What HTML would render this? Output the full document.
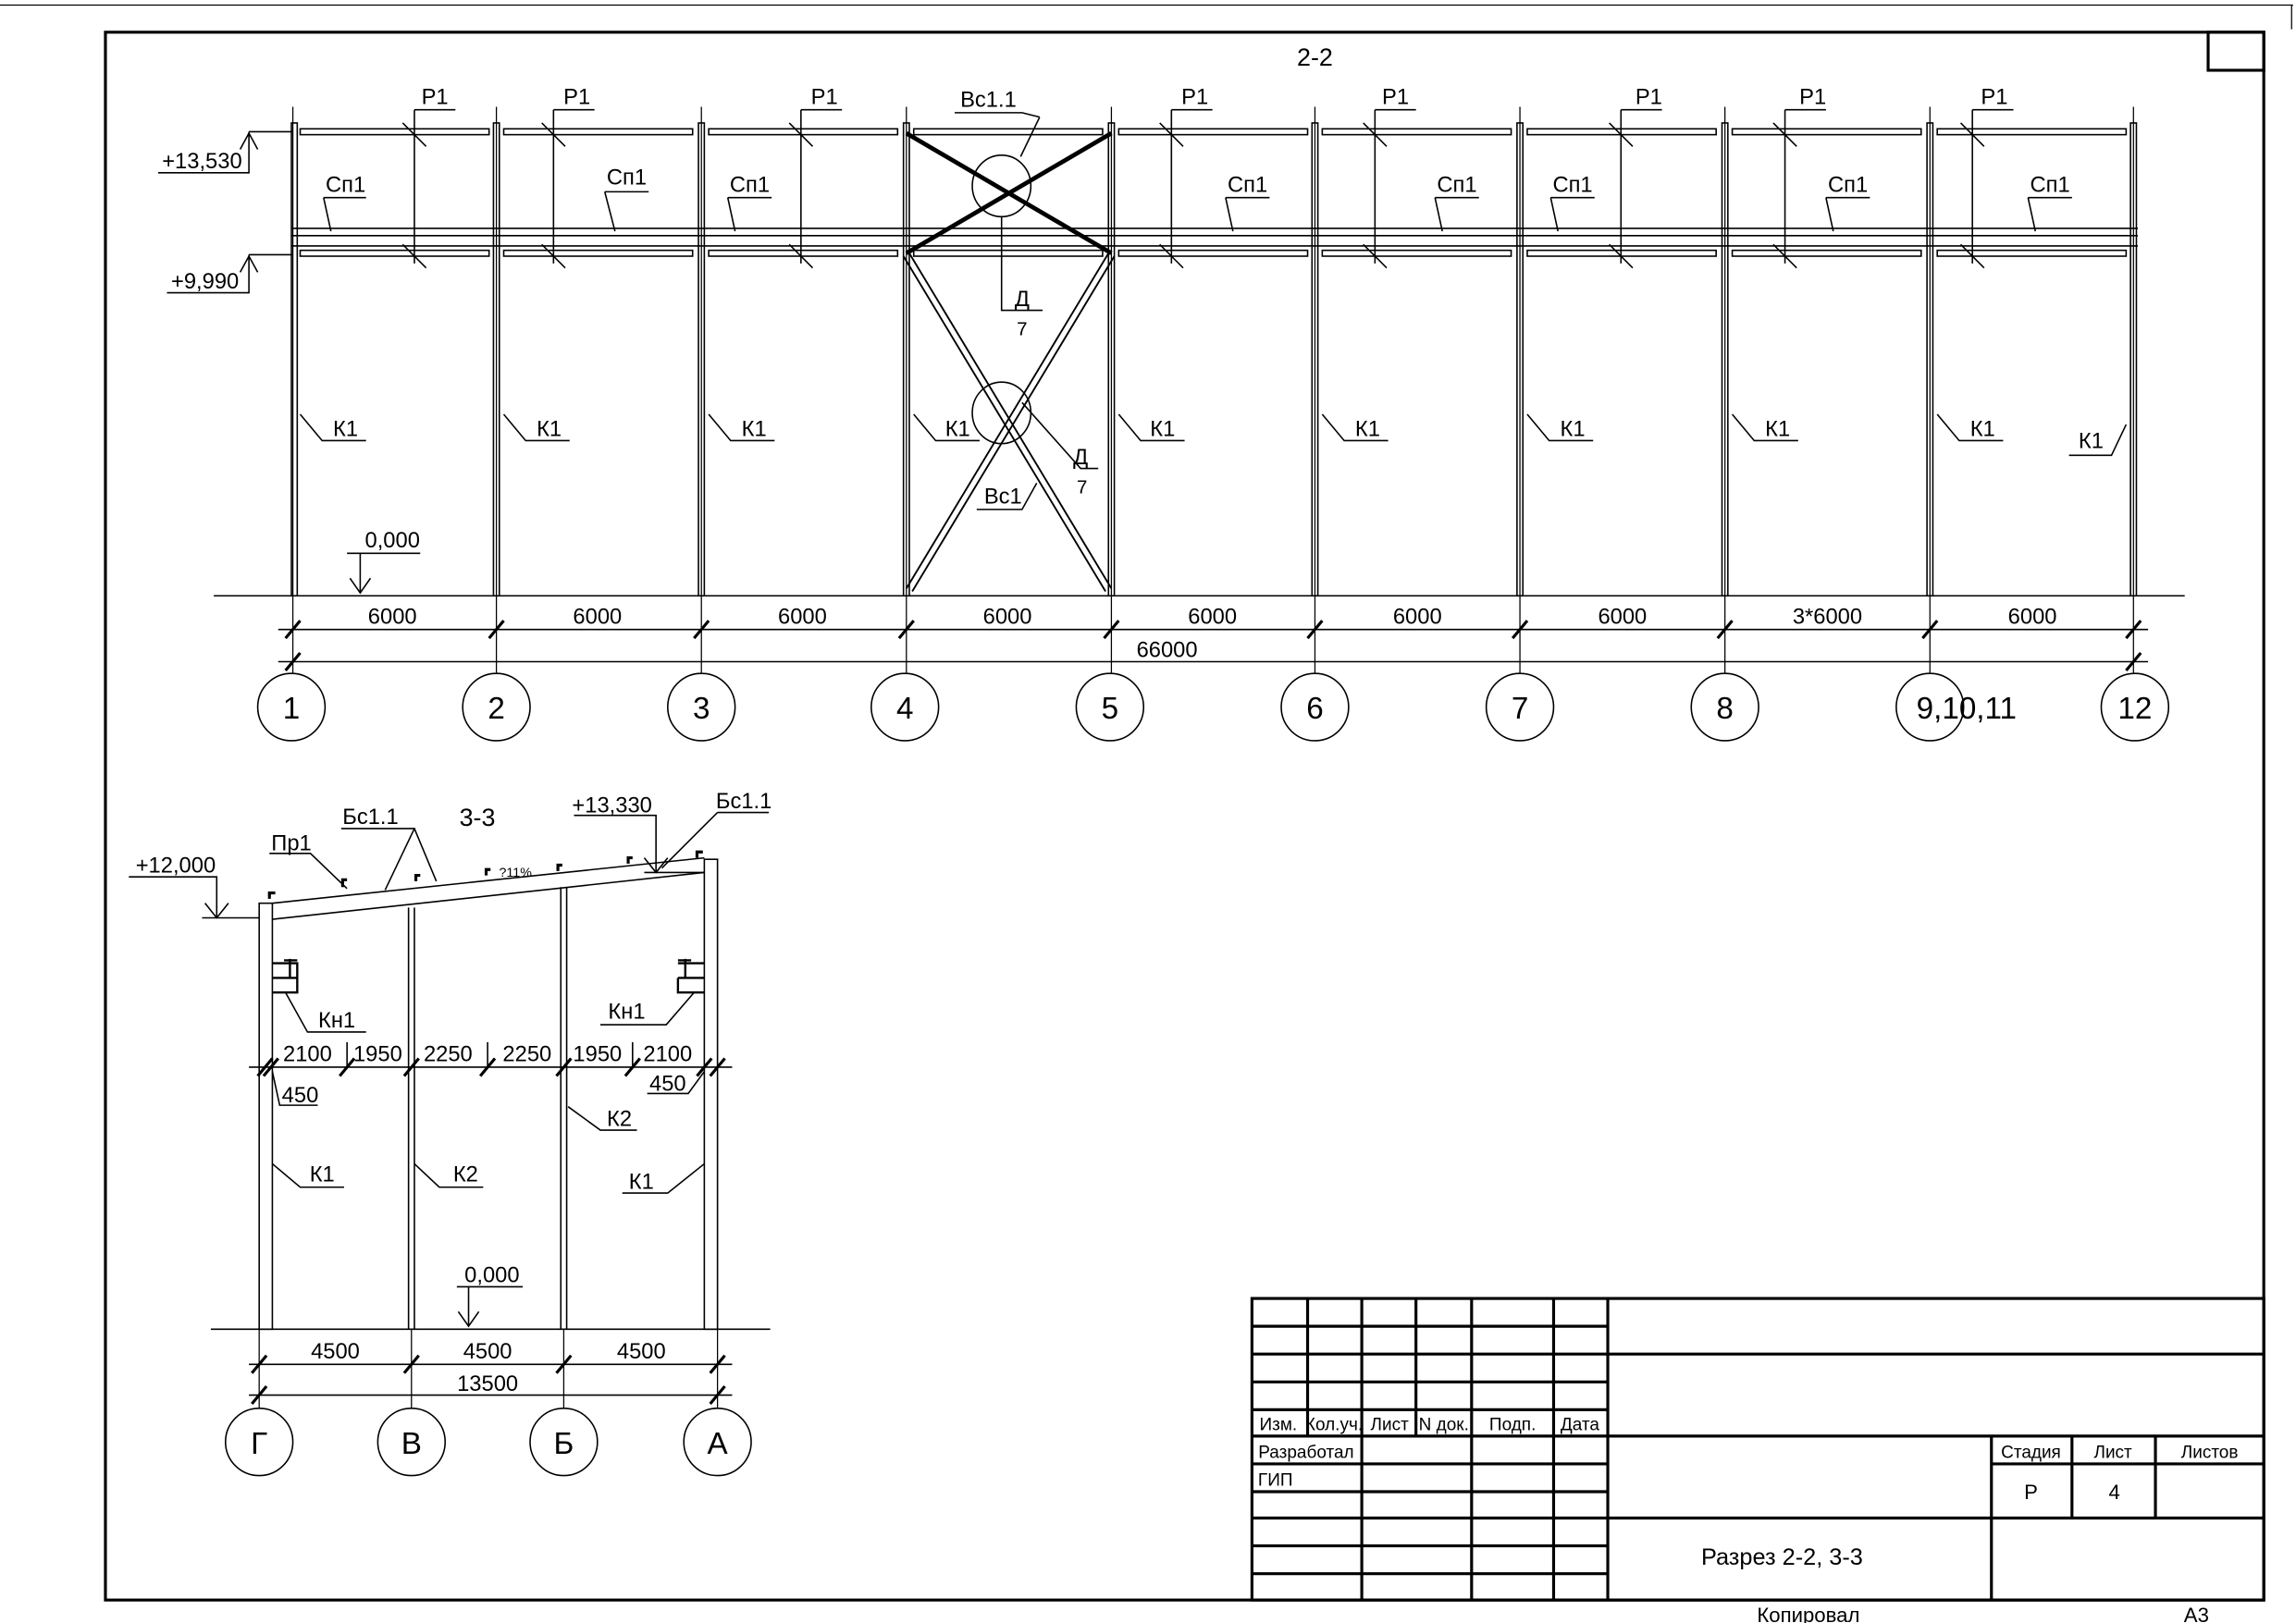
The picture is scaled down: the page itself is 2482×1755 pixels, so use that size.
<!DOCTYPE html>
<html><head><meta charset="utf-8"><style>
html,body{margin:0;padding:0;background:#fff;}
svg{display:block;}
text{font-family:"Liberation Sans Narrow","Liberation Sans","DejaVu Sans",sans-serif;fill:#000;}
</style></head><body>
<svg width="2482" height="1755" viewBox="0 0 1568 1108.7" preserveAspectRatio="none" xmlns="http://www.w3.org/2000/svg">
<rect width="1568" height="1109" fill="#fff"/>
<g stroke="#000" fill="none" stroke-width="1">
<line x1="0" y1="3.5" x2="1566" y2="3.5" stroke-width="0.8"/>
<line x1="1565" y1="3.5" x2="1565" y2="20" stroke-width="0.8"/>
<rect x="72" y="22" width="1474" height="1071" stroke-width="2"/>
<rect x="1508" y="22" width="38" height="26" stroke-width="2"/>

<!-- 2-2 ground / dims -->
<line x1="146" y1="407" x2="1492" y2="407"/>
<line x1="190" y1="430" x2="1467" y2="430"/>
<line x1="190" y1="452" x2="1467" y2="452"/>
<g stroke-width="0.8">
<line x1="200" y1="73" x2="200" y2="460"/><line x1="339" y1="73" x2="339" y2="460"/><line x1="479" y1="73" x2="479" y2="460"/><line x1="619" y1="73" x2="619" y2="460"/><line x1="759" y1="73" x2="759" y2="460"/><line x1="898" y1="73" x2="898" y2="460"/><line x1="1038" y1="73" x2="1038" y2="460"/><line x1="1178" y1="73" x2="1178" y2="460"/><line x1="1318" y1="73" x2="1318" y2="460"/><line x1="1457" y1="73" x2="1457" y2="460"/>
<line x1="200" y1="460" x2="200" y2="460"/>
</g>
<g stroke-width="2">
<path d="M195 436l10-12M334 436l10-12M474 436l10-12M614 436l10-12M754 436l10-12M893 436l10-12M1033 436l10-12M1173 436l10-12M1313 436l10-12M1452 436l10-12M195 458l10-12M1452 458l10-12"/>
</g>
<!-- columns -->
<g stroke-width="1">
<rect x="199" y="84" width="4" height="323"/><rect x="337" y="84" width="4" height="323"/><rect x="477" y="84" width="4" height="323"/><rect x="617" y="84" width="4" height="323"/><rect x="757" y="84" width="4" height="323"/><rect x="896" y="84" width="4" height="323"/><rect x="1036" y="84" width="4" height="323"/><rect x="1176" y="84" width="4" height="323"/><rect x="1316" y="84" width="4" height="323"/><rect x="1455" y="84" width="4" height="323"/>
</g>
<!-- beams -->
<g stroke-width="1">
<rect x="205" y="88" width="129" height="4"/><rect x="344" y="88" width="129" height="4"/><rect x="484" y="88" width="129" height="4"/><rect x="624" y="88" width="129" height="4"/><rect x="764" y="88" width="129" height="4"/><rect x="903" y="88" width="129" height="4"/><rect x="1043" y="88" width="129" height="4"/><rect x="1183" y="88" width="129" height="4"/><rect x="1323" y="88" width="129" height="4"/>
<rect x="205" y="171" width="129" height="4"/><rect x="344" y="171" width="129" height="4"/><rect x="484" y="171" width="129" height="4"/><rect x="624" y="171" width="129" height="4"/><rect x="764" y="171" width="129" height="4"/><rect x="903" y="171" width="129" height="4"/><rect x="1043" y="171" width="129" height="4"/><rect x="1183" y="171" width="129" height="4"/><rect x="1323" y="171" width="129" height="4"/>
<line x1="199" y1="156" x2="1460" y2="156"/><line x1="199" y1="161" x2="1460" y2="161"/><line x1="199" y1="168" x2="1460" y2="168"/>
</g>
<!-- bracing -->
<path d="M619 91L759 173M759 91L619 173" stroke-width="3"/>
<path d="M617 175L755 404M621 173L759 402M761 175L623 404M757 173L619 402" stroke-width="1.2"/>
<ellipse cx="684" cy="127" rx="20" ry="21"/>
<ellipse cx="684" cy="282" rx="20" ry="21"/>
<path d="M684 148V212H712M698 275L738 320H750M710 80L697 107M652 77H698L710 80M708 330L698 348H667"/>
<!-- elevations -->
<path d="M108 118H170V90M164 102L170 91L176 102M114 200H170V174M164 186L170 175L176 186M170 90H200M170 174H200"/>
<path d="M237 378H287M246 378V405M239 395L246 405L253 395"/>
<!-- P1 leaders -->
<path d="M283 75V180M275 84L291 100M275 167L291 183M283 75H311
M378 75V180M370 84L386 100M370 167L386 183M378 75H406
M547 75V180M539 84L555 100M539 167L555 183M547 75H575
M800 75V180M792 84L808 100M792 167L808 183M800 75H828
M939 75V180M931 84L947 100M931 167L947 183M939 75H967
M1107 75V180M1099 84L1115 100M1099 167L1115 183M1107 75H1135
M1219 75V180M1211 84L1227 100M1211 167L1227 183M1219 75H1247
M1347 75V180M1339 84L1355 100M1339 167L1355 183M1347 75H1375"/>
<!-- Cn1 leaders -->
<path d="M221 135H250M221 135L226 158M413 131H443M413 131L420 158M497 135H527M497 135L502 158M837 135H867M837 135L842 158M980 135H1010M980 135L985 158M1059 135H1089M1059 135L1064 158M1247 135H1277M1247 135L1252 158M1385 135H1415M1385 135L1390 158"/>
<!-- K1 leaders -->
<path d="M205 283L220 301H250M344 283L359 301H389M484 283L499 301H529M624 283L639 301H669M764 283L779 301H809M903 283L918 301H948M1043 283L1058 301H1088M1183 283L1198 301H1228M1323 283L1338 301H1368M1452 290L1442 311H1413"/>
<!-- axis circles -->
<circle cx="199" cy="483" r="23"/><circle cx="339" cy="483" r="23"/><circle cx="479" cy="483" r="23"/><circle cx="618" cy="483" r="23"/><circle cx="758" cy="483" r="23"/><circle cx="898" cy="483" r="23"/><circle cx="1038" cy="483" r="23"/><circle cx="1178" cy="483" r="23"/><circle cx="1318" cy="483" r="23"/><circle cx="1458" cy="483" r="23"/>

<!-- 3-3 -->
<line x1="144" y1="908" x2="526" y2="908"/>
<rect x="177" y="617" width="9" height="291"/>
<rect x="481" y="587" width="9" height="321"/>
<path d="M279 620V908M283 620V908M383 606V908M387 606V908" stroke-width="1"/>
<path d="M186 617L481 586M186 628L481 596"/>
<g stroke-width="2"><path d="M184 614v-4h4M234 606v-5h3M284 602v-4h3M332 598v-4h3M381 595v-4h3M429 590v-4h3M476 586v-4h4"/></g>
<path d="M88 599H148V627M140 617L148 627L156 617M138 627H177"/>
<path d="M392 557H448V596M440 586L448 596L456 586M440 596H481"/>
<path d="M490 555H525M490 555L452 593M233 566H283L263 608M283 566L298 602M184 583H212L237 607"/>
<!-- consoles -->
<path d="M186 658H203V678H186M186 668H203M198 668V655M194 656H203M463 658H481M463 668H481M463 668V678H481M468 668V655M463 656H472" stroke-width="1.5"/>
<path d="M195 678L210 705H250M474 678L455 700H410"/>
<!-- dims 3-3 -->
<line x1="170" y1="729" x2="500" y2="729"/>
<g stroke-width="2"><path d="M176 735l10-12M180 735l10-12M232 735l10-12M276 735l10-12M328 735l10-12M380 735l10-12M427 735l10-12M476 735l10-12M485 735l10-12"/></g>
<path d="M237 712V729M333 712V729M432 712V729M186 732L191 755H217M481 732L470 747H442"/>
<path d="M186 795L205 811H235M283 795L300 811H330M388 756L410 772H435M481 795L456 815H425"/>
<path d="M312 879H357M320 879V906M313 896L320 906L327 896"/>
<line x1="170" y1="932" x2="500" y2="932"/>
<line x1="170" y1="953" x2="500" y2="953"/>
<path d="M177 908V962M281 908V962M385 908V962M490 908V962" stroke-width="0.8"/>
<g stroke-width="2"><path d="M172 938l10-12M276 938l10-12M380 938l10-12M485 938l10-12M172 959l10-12M485 959l10-12"/></g>
<circle cx="177" cy="985" r="23"/><circle cx="281" cy="985" r="23"/><circle cx="385" cy="985" r="23"/><circle cx="490" cy="985" r="23"/>

<!-- title block -->
<g stroke-width="2">
<rect x="855" y="887" width="691" height="206"/>
<path d="M893 887V981M930 887V1093M967 887V981M1005 887V1093M1061 887V1093M1098 887V1093"/>
<path d="M855 906H1098M855 925H1546M855 944H1098M855 963H1098M855 981H1546M855 1000H1098M855 1019H1098M855 1037H1546M855 1056H1098M855 1075H1098"/>
<path d="M1360 981V1093M1415 981V1037M1472 981V1037M1360 1000H1546"/>
</g>
</g>

<g font-size="15" text-anchor="middle">
<text x="898" y="45" font-size="17">2-2</text>
<text x="297" y="71">Р1</text><text x="394" y="71">Р1</text><text x="563" y="71">Р1</text><text x="816" y="71">Р1</text><text x="953" y="71">Р1</text><text x="1126" y="71">Р1</text><text x="1238" y="71">Р1</text><text x="1362" y="71">Р1</text>
<text x="675" y="73">Вс1.1</text>
<text x="236" y="131">Сп1</text><text x="428" y="126">Сп1</text><text x="512" y="131">Сп1</text><text x="852" y="131">Сп1</text><text x="995" y="131">Сп1</text><text x="1074" y="131">Сп1</text><text x="1262" y="131">Сп1</text><text x="1400" y="131">Сп1</text>
<text x="138" y="115">+13,530</text><text x="140" y="197">+9,990</text>
<text x="698" y="209">Д</text><text x="698" y="229" font-size="13">7</text>
<text x="738" y="317">Д</text><text x="739" y="337" font-size="13">7</text>
<text x="685" y="344">Вс1</text>
<text x="236" y="298">К1</text><text x="375" y="298">К1</text><text x="515" y="298">К1</text><text x="654" y="298">К1</text><text x="794" y="298">К1</text><text x="934" y="298">К1</text><text x="1074" y="298">К1</text><text x="1214" y="298">К1</text><text x="1354" y="298">К1</text><text x="1428" y="306">К1</text>
<text x="268" y="374">0,000</text>
<text x="268" y="426">6000</text><text x="408" y="426">6000</text><text x="548" y="426">6000</text><text x="688" y="426">6000</text><text x="828" y="426">6000</text><text x="968" y="426">6000</text><text x="1108" y="426">6000</text><text x="1248" y="426">3*6000</text><text x="1388" y="426">6000</text>
<text x="797" y="449">66000</text>
<g font-size="21"><text x="199" y="491">1</text><text x="339" y="491">2</text><text x="479" y="491">3</text><text x="618" y="491">4</text><text x="758" y="491">5</text><text x="898" y="491">6</text><text x="1038" y="491">7</text><text x="1178" y="491">8</text><text x="1343" y="491">9,10,11</text><text x="1458" y="491">12</text></g>

<text x="326" y="564" font-size="17">3-3</text>
<text x="253" y="563">Бс1.1</text><text x="508" y="552">Бс1.1</text><text x="418" y="555">+13,330</text>
<text x="199" y="581">Пр1</text><text x="120" y="596">+12,000</text>
<text x="352" y="599" font-size="9">?11%</text>
<text x="230" y="702">Кн1</text><text x="428" y="696">Кн1</text>
<text x="210" y="725">2100</text><text x="258" y="725">1950</text><text x="306" y="725">2250</text><text x="360" y="725">2250</text><text x="408" y="725">1950</text><text x="456" y="725">2100</text>
<text x="205" y="753">450</text><text x="456" y="745">450</text>
<text x="220" y="807">К1</text><text x="318" y="807">К2</text><text x="423" y="769">К2</text><text x="438" y="812">К1</text>
<text x="336" y="876">0,000</text>
<text x="229" y="928">4500</text><text x="333" y="928">4500</text><text x="438" y="928">4500</text>
<text x="333" y="950">13500</text>
<g font-size="21"><text x="177" y="993">Г</text><text x="281" y="993">В</text><text x="385" y="993">Б</text><text x="490" y="993">А</text></g>

<g font-size="12">
<text x="873" y="977">Изм.</text><text x="911" y="977">Кол.уч.</text><text x="949" y="977">Лист</text><text x="986" y="977">N док.</text><text x="1033" y="977">Подп.</text><text x="1079" y="977">Дата</text>
<text x="892" y="996">Разработал</text><text x="871" y="1015">ГИП</text>
<text x="1387" y="996">Стадия</text><text x="1443" y="996">Лист</text><text x="1509" y="996">Листов</text>
<text x="1387" y="1024" font-size="14">Р</text><text x="1444" y="1024" font-size="14">4</text>
</g>
<text x="1217" y="1069" font-size="16">Разрез 2-2, 3-3</text>
<text x="1235" y="1108" font-size="14">Копировал</text><text x="1500" y="1108" font-size="14">А3</text>
</g>
</svg>
</body></html>
